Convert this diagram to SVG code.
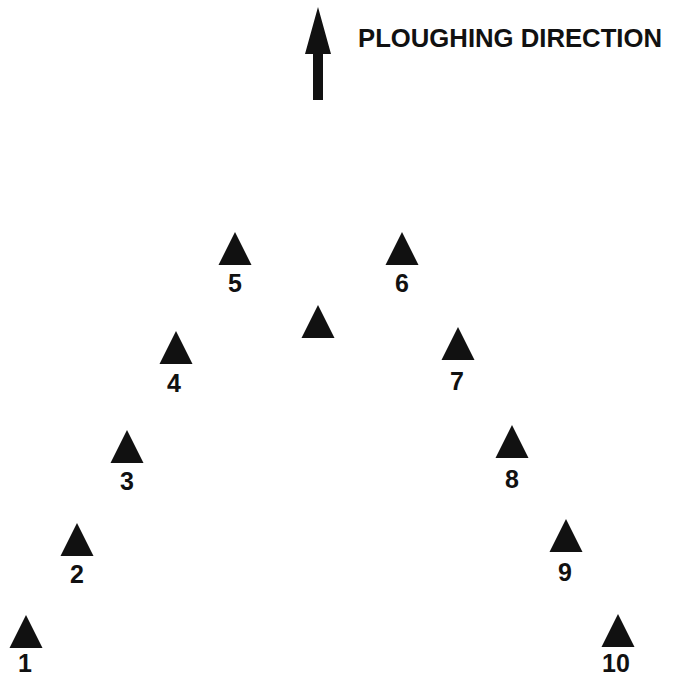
<svg xmlns="http://www.w3.org/2000/svg" xmlns:xlink="http://www.w3.org/1999/xlink" width="676" height="677" viewBox="0 0 676 677">
<style>
.tri{fill:#111;}
.lbl{font-family:"Liberation Sans",Arial,sans-serif;font-size:25px;font-weight:bold;fill:#111;text-anchor:middle;}
.title{font-family:"Liberation Sans",Arial,sans-serif;font-size:26px;font-weight:bold;fill:#111;}
</style>
<defs>
<path id="tri" d="M0 0 L16.5 33 L-16.5 33 Z"/>
</defs>
<rect width="676" height="677" fill="#fff"/>
<g id="direction">
<path class="tri" d="M318 7 L331 54 L323 54 L323 100 L313 100 L313 54 L305 54 Z"/>
<text class="title" x="358" y="47" textLength="304" lengthAdjust="spacingAndGlyphs">PLOUGHING DIRECTION</text>
</g>
<g id="connectors"></g>
<g id="n1"><use class="tri" xlink:href="#tri" x="26" y="615"/><text class="lbl" x="25" y="672">1</text></g>
<g id="n2"><use class="tri" xlink:href="#tri" x="77" y="523"/><text class="lbl" x="77" y="583">2</text></g>
<g id="n3"><use class="tri" xlink:href="#tri" x="127" y="430"/><text class="lbl" x="127" y="490">3</text></g>
<g id="n4"><use class="tri" xlink:href="#tri" x="176" y="331"/><text class="lbl" x="174" y="392">4</text></g>
<g id="n5"><use class="tri" xlink:href="#tri" x="235" y="232"/><text class="lbl" x="235" y="292">5</text></g>
<g id="center"><use class="tri" xlink:href="#tri" x="318" y="305"/></g>
<g id="n6"><use class="tri" xlink:href="#tri" x="402" y="232"/><text class="lbl" x="402" y="292">6</text></g>
<g id="n7"><use class="tri" xlink:href="#tri" x="458" y="327"/><text class="lbl" x="457" y="390">7</text></g>
<g id="n8"><use class="tri" xlink:href="#tri" x="512" y="425"/><text class="lbl" x="512" y="488">8</text></g>
<g id="n9"><use class="tri" xlink:href="#tri" x="566" y="519"/><text class="lbl" x="565" y="581">9</text></g>
<g id="n10"><use class="tri" xlink:href="#tri" x="618" y="614"/><text class="lbl" x="616" y="672">10</text></g>
</svg>
